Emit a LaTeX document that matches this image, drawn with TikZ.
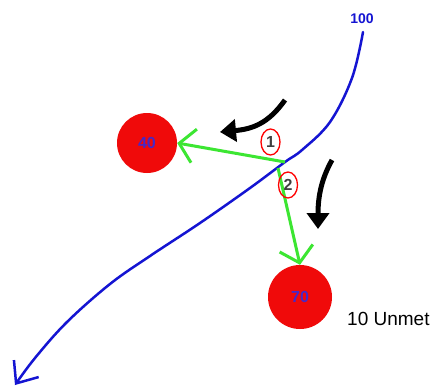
\documentclass[tikz,border=0pt]{standalone}
\usepackage{fontspec}
\setmainfont{Liberation Sans}
\usetikzlibrary{arrows.meta,shapes.geometric}
\definecolor{curveblue}{RGB}{20,20,210}
\definecolor{labblue}{RGB}{70,40,200}
\definecolor{flowgreen}{RGB}{60,230,50}
\definecolor{ballred}{RGB}{240,10,10}
\tikzset{
  ball/.style={circle,fill=ballred,minimum size=60pt,inner sep=0pt,text=labblue,font=\bfseries\fontsize{16}{18}\selectfont},
  stepnum/.style={ellipse,draw=red,line width=1.3pt,minimum width=19pt,minimum height=26pt,inner sep=0pt,text=black!75,font=\bfseries\fontsize{16}{18}\selectfont},
  flow/.style={flowgreen,line width=3pt,-{Straight Barb[length=15pt,width=34pt,line width=3pt]}},
  turn/.style={black,line width=5pt,-{Triangle[length=16pt,width=22pt]}},
}
\begin{document}
\begin{tikzpicture}[x=1pt,y=-1pt]
\useasboundingbox (0,0) rectangle (436,389);
\fill[white] (0,0) rectangle (436,389);
% blue curve
\coordinate (cross) at (285,162);
\coordinate (cross2) at (278,168);
\draw[curveblue,line width=2.5pt,line cap=round,-{Straight Barb[length=18pt,width=30pt,line width=2.5pt]}]
  plot[smooth,tension=0.6] coordinates {(363,32) (352,78) (330,122) (302,150) (285,162) (250,188) (200,223) (150,256) (110,284) (67,322) (35,358) (15,385)};
\node[text=curveblue,font=\bfseries\fontsize{14}{16}\selectfont] (lab100) at (362,19) {100};
% balls
\node[ball] (c40) at (147,143) {40};
\node[ball,minimum width=60pt,minimum height=64pt] (c70) at (300,297) {70};
% green flows
\draw[flow] (cross) -- (c40.east);
\draw[flow] (cross2) -- (c70.north);
% step numbers
\node[stepnum] (s1) at (270.5,142) {1};
\node[stepnum] (s2) at (288,185) {2};
% black turning arrows
\coordinate (a1s) at (285,100);
\coordinate (a1e) at (220,132);
\draw[turn] (a1s) .. controls (268,124) and (252,129) .. (a1e);
\coordinate (a2s) at (332,160);
\coordinate (a2e) at (318,229);
\draw[turn] (a2s) .. controls (322,178) and (318,195) .. (a2e);
% unmet
\node[anchor=base west,font=\fontsize{19}{22}\selectfont,inner sep=0pt] (unmet) at (347,325) {10 Unmet};
\end{tikzpicture}
\end{document}
